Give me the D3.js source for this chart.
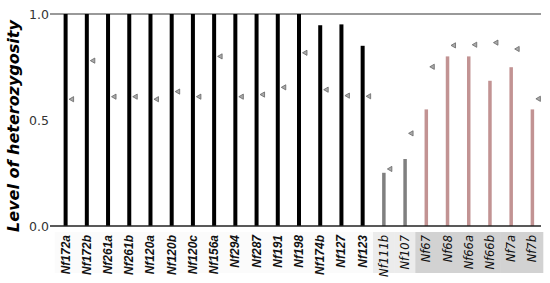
<!DOCTYPE html>
<html>
<head>
<meta charset="utf-8">
<script src="https://d3js.org/d3.v7.min.js"></script>
<style>
  body { margin: 0; background: #fff; }
  .tick text { font-family: "DejaVu Sans", sans-serif; font-size: 12.5px; fill: #333; }
  .ylabel { font-family: "DejaVu Sans", sans-serif; font-size: 16px; font-weight: bold; font-style: italic; }
</style>
</head>
<body>
<svg id="chart" width="550" height="283"></svg>
<script>
// categories, grouped
const loci = ["Nf172a","Nf172b","Nf261a","Nf261b","Nf120a","Nf120b","Nf120c","Nf156a","Nf294","Nf287",
  "Nf191","Nf198","Nf174b","Nf127","Nf123","Nf111b","Nf107","Nf67","Nf68","Nf66a","Nf66b","Nf7a","Nf7b"];
const groups = ["A","A","A","A","A","A","A","A","A","A","A","A","A","A","A","B","B","C","C","C","C","C","C"];
// bar height = observed heterozygosity
const observed = [1,1,1,1,1,1,1,1,1,1,1,1,0.947,0.951,0.85,0.251,0.316,0.55,0.80,0.80,0.685,0.749,0.55];
// triangle = expected heterozygosity
const expected = [0.598,0.78,0.61,0.61,0.598,0.634,0.61,0.80,0.61,0.62,0.654,0.817,0.643,0.615,0.612,
  0.269,0.437,0.751,0.852,0.855,0.865,0.835,0.60];
const yTicks = [0, 0.5, 1];

const barColor = {A: "#000", B: "#808080", C: "#c29393"};
const barWidth = {A: 4, B: 3.5, C: 3.5};
const bandFill = {A: "#fbfbfb", B: "#ececec", C: "#d2d2d2"};

const svg = d3.select("#chart");
const mLeft = 55, mRight = 543, mTop = 14, mBottom = 226;

const x = d3.scaleBand().domain(loci).range([mLeft, mRight]);
const y = d3.scaleLinear().domain([0, 1]).range([mBottom, mTop]);

// label background bands
svg.selectAll("rect.band")
  .data(loci)
  .enter().append("rect")
  .attr("class", "band")
  .attr("x", d => x(d) - 0.3)
  .attr("y", 232)
  .attr("width", x.bandwidth() + 0.6)
  .attr("height", 41)
  .attr("fill", (d, i) => bandFill[groups[i]]);

// top reference line at 1.0
svg.append("line")
  .attr("x1", 50).attr("x2", mRight - 2)
  .attr("y1", y(1)).attr("y2", y(1))
  .attr("stroke", "#777").attr("stroke-width", 1.3);

// bars
svg.selectAll("rect.bar")
  .data(loci)
  .enter().append("rect")
  .attr("class", "bar")
  .attr("x", (d, i) => x(d) + x.bandwidth() / 2 - barWidth[groups[i]] / 2)
  .attr("y", (d, i) => y(observed[i]))
  .attr("width", (d, i) => barWidth[groups[i]])
  .attr("height", (d, i) => y(0) - y(observed[i]))
  .attr("fill", (d, i) => barColor[groups[i]]);

// triangles
svg.selectAll("path.tri")
  .data(loci)
  .enter().append("path")
  .attr("class", "tri")
  .attr("transform", (d, i) => "translate(" + (x(d) + x.bandwidth() / 2 + 6) + "," + y(expected[i]) + ")")
  .attr("d", "M-2.5,0L2,-2.6L2,2.6Z")
  .attr("fill", "#aaa")
  .attr("stroke", "#666")
  .attr("stroke-width", 0.8);

// bottom axis line
svg.append("line")
  .attr("x1", 50).attr("x2", mRight - 2)
  .attr("y1", y(0)).attr("y2", y(0))
  .attr("stroke", "#222").attr("stroke-width", 1.5);

// y axis labels
const yAxis = d3.axisLeft(y).tickValues(yTicks).tickFormat(d3.format(".1f")).tickSize(0).tickPadding(0);
const ga = svg.append("g").attr("transform", "translate(49,0)").call(yAxis);
ga.select(".domain").remove();

svg.append("text")
  .attr("class", "ylabel")
  .attr("text-anchor", "middle")
  .attr("transform", "translate(19,126) rotate(-90)")
  .text("Level of heterozygosity");

// category labels
svg.selectAll("text.cat")
  .data(loci)
  .enter().append("text")
  .attr("class", "cat")
  .attr("text-anchor", "end")
  .attr("transform", d => "translate(" + (x(d) + x.bandwidth() / 2 + 4) + ",235) rotate(-90)")
  .style("font-family", (d, i) => groups[i] === "A" ? "'Liberation Sans', Arial, sans-serif" : "'DejaVu Sans', sans-serif")
  .style("font-weight", (d, i) => groups[i] === "A" ? "bold" : "normal")
  .style("font-style", "italic")
  .style("font-size", (d, i) => groups[i] === "A" ? "12px" : "11.5px")
  .attr("fill", "#111")
  .text(d => d);
</script>
</body>
</html>
